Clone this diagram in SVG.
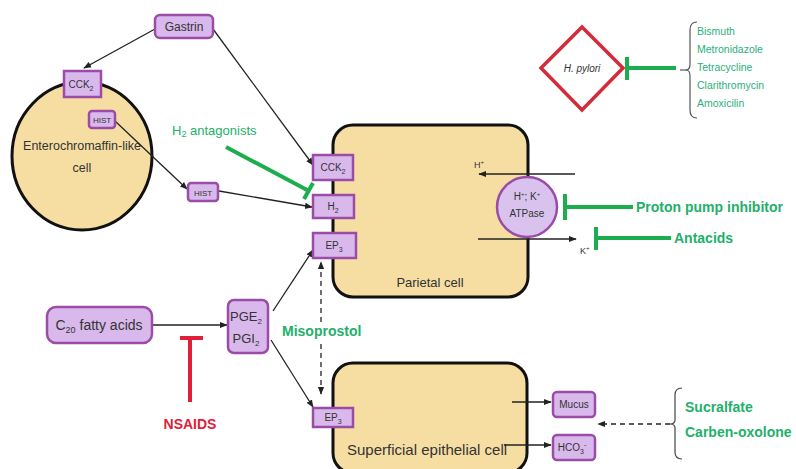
<svg xmlns="http://www.w3.org/2000/svg" width="796" height="469" viewBox="0 0 796 469">
<defs>
<style>
text{font-family:"Liberation Sans","Open Sans",sans-serif;}
.cell{fill:#f6dea3;stroke:#111;stroke-width:3;}
.box{fill:#d9b8ec;stroke:#9a4ca6;stroke-width:2.5;}
.lbl{font-size:10px;fill:#333;text-anchor:middle;}
.ln{stroke:#222;stroke-width:1.3;fill:none;}
.g{stroke:#1cae4e;stroke-width:4;fill:none;}
.gt{fill:#22b06a;font-weight:bold;}
.drug{fill:#2ab07a;font-size:10.5px;}
</style>
<marker id="ah" viewBox="0 0 10 10" refX="9" refY="5" markerWidth="6" markerHeight="6" orient="auto-start-reverse"><path d="M0,1 L10,5 L0,9 z" fill="#222"/></marker>
</defs>
<rect width="796" height="469" fill="#fff"/>

<g id="ecl-cell">
<ellipse class="cell" cx="82" cy="156" rx="70" ry="74"/>
<text x="82" y="150" style="font-size:12.5px;fill:#333" text-anchor="middle">Enterochromaffin-like</text>
<text x="82" y="172" style="font-size:12.5px;fill:#333" text-anchor="middle">cell</text>
</g>
<g id="parietal-cell">
<rect class="cell" x="333" y="125" width="195" height="172" rx="20"/>
<text x="430" y="287" style="font-size:13px;fill:#333" text-anchor="middle">Parietal cell</text>
<text x="474" y="168" style="font-size:9px;fill:#333">H<tspan font-size="6" dy="-4">+</tspan></text>
<text x="580" y="254" style="font-size:9px;fill:#333">K<tspan font-size="6" dy="-4">+</tspan></text>
</g>
<g id="epithelial-cell">
<rect class="cell" x="333" y="363" width="194" height="110" rx="20"/>
<text x="347" y="455" style="font-size:15px;fill:#333">Superficial epithelial cell</text>
</g>

<g id="connectors">
<line class="ln" x1="155" y1="29" x2="84" y2="68" marker-end="url(#ah)"/>
<line class="ln" x1="213" y1="29" x2="313" y2="165" marker-end="url(#ah)"/>
<line class="ln" x1="115" y1="121" x2="187" y2="189" marker-end="url(#ah)"/>
<line class="ln" x1="219" y1="191" x2="312" y2="207" marker-end="url(#ah)"/>
<line class="ln" x1="153" y1="325" x2="227" y2="325" marker-end="url(#ah)"/>
<line class="ln" x1="273" y1="311" x2="313" y2="250" marker-end="url(#ah)"/>
<line class="ln" x1="271" y1="340" x2="313" y2="407" marker-end="url(#ah)"/>
<line class="ln" x1="321" y1="394" x2="321" y2="262" stroke-dasharray="5,4" marker-start="url(#ah)" marker-end="url(#ah)"/>
<line class="ln" x1="575" y1="174" x2="479" y2="174" marker-end="url(#ah)"/>
<line class="ln" x1="478" y1="239" x2="576" y2="239" marker-end="url(#ah)"/>
<line class="ln" x1="512" y1="402" x2="551" y2="402" marker-end="url(#ah)"/>
<line class="ln" x1="504" y1="445" x2="551" y2="445" marker-end="url(#ah)"/>
<line class="ln" x1="670" y1="424" x2="598" y2="424" stroke-dasharray="5,4" marker-end="url(#ah)"/>
<line class="g" x1="226" y1="147" x2="309" y2="191"/>
<line class="g" x1="304" y1="199" x2="313" y2="183"/>
<line class="g" x1="565" y1="207" x2="633" y2="207"/>
<line class="g" x1="565" y1="194" x2="565" y2="220"/>
<line class="g" x1="596" y1="238" x2="671" y2="238"/>
<line class="g" x1="596" y1="227" x2="596" y2="250"/>
<line class="g" x1="627" y1="68" x2="676" y2="68"/>
<line class="g" x1="627" y1="57" x2="627" y2="80"/>
<line x1="680" y1="70" x2="687" y2="70" stroke="#555" stroke-width="1.2"/>
<line x1="190" y1="402" x2="190" y2="338" stroke="#e02038" stroke-width="4"/>
<line x1="180" y1="338" x2="203" y2="338" stroke="#e02038" stroke-width="4"/>
<path d="M697,22 Q690,22 690,30 L690,64 Q690,70 686,70 Q690,70 690,76 L690,110 Q690,118 697,118" fill="none" stroke="#555" stroke-width="1.2"/>
<path d="M682,388 Q675,388 675,395 L675,420 Q675,424 670,424 Q675,424 675,428 L675,452 Q675,459 682,459" fill="none" stroke="#444" stroke-width="1.2"/>
</g>

<g id="gastrin">
<rect class="box" x="155" y="15" width="58" height="23" rx="5"/>
<text class="lbl" x="184" y="31" style="font-size:12px">Gastrin</text>
</g>
<g id="cck2-ecl">
<rect class="box" x="64" y="71" width="37" height="26"/>
<text class="lbl" x="81" y="88">CCK<tspan font-size="7" dy="3">2</tspan></text>
</g>
<g id="hist-in">
<rect class="box" x="89" y="111" width="26" height="17" rx="3"/>
<text class="lbl" x="102" y="123" style="font-size:8px">HIST</text>
</g>
<g id="hist-out">
<rect class="box" x="188" y="183" width="30" height="18" rx="3"/>
<text class="lbl" x="203" y="195.5" style="font-size:8px">HIST</text>
</g>

<g id="h2-antagonists">
<text class="gt" x="172" y="135" style="font-size:13px;font-weight:normal">H<tspan font-size="9" dy="2">2</tspan><tspan dy="-2"> antagonists</tspan></text>
</g>

<g id="cck2-par">
<rect class="box" x="313" y="155" width="40" height="25"/>
<text class="lbl" x="333" y="171">CCK<tspan font-size="7" dy="3">2</tspan></text>
</g>
<g id="h2">
<rect class="box" x="313" y="195" width="41" height="23"/>
<text class="lbl" x="333" y="210">H<tspan font-size="7" dy="3">2</tspan></text>
</g>
<g id="ep3-par">
<rect class="box" x="313" y="233" width="43" height="25"/>
<text class="lbl" x="334" y="249">EP<tspan font-size="7" dy="3">3</tspan></text>
</g>
<g id="atpase">
<circle cx="527" cy="207" r="30" fill="#d9c3ee" stroke="#9a4ca6" stroke-width="2.5"/>
<text class="lbl" x="527" y="200">H<tspan font-size="6" dy="-4">+</tspan><tspan dy="4">; K</tspan><tspan font-size="6" dy="-4">+</tspan></text>
<text class="lbl" x="527" y="217">ATPase</text>
</g>

<g id="ppi"><text class="gt" x="636" y="212" style="font-size:14px">Proton pump inhibitor</text></g>
<g id="antacids"><text class="gt" x="674" y="243" style="font-size:14px">Antacids</text></g>

<g id="h-pylori">
<polygon points="582,27 623,68 582,110 541,68" fill="#fff" stroke="#d42a3a" stroke-width="3.5"/>
<text x="582" y="72" style="font-size:10px;font-style:italic;fill:#333" text-anchor="middle">H. pylori</text>
</g>
<g id="antibiotics">
<text class="drug" x="697" y="35">Bismuth</text>
<text class="drug" x="697" y="53">Metronidazole</text>
<text class="drug" x="697" y="71">Tetracycline</text>
<text class="drug" x="697" y="89">Clarithromycin</text>
<text class="drug" x="697" y="107">Amoxicilin</text>
</g>

<g id="c20">
<rect class="box" x="47" y="307" width="105" height="36" rx="9"/>
<text x="99" y="330" style="font-size:14px;fill:#333" text-anchor="middle">C<tspan font-size="9" dy="3">20</tspan><tspan dy="-3"> fatty acids</tspan></text>
</g>
<g id="pg">
<rect class="box" x="228" y="300" width="40" height="53" rx="6"/>
<text x="246" y="321" style="font-size:13px;fill:#333" text-anchor="middle">PGE<tspan font-size="8" dy="3">2</tspan></text>
<text x="246" y="343" style="font-size:13px;fill:#333" text-anchor="middle">PGI<tspan font-size="8" dy="3">2</tspan></text>
</g>
<g id="nsaids"><text x="190" y="429" style="font-size:14px;fill:#e02038;font-weight:bold" text-anchor="middle">NSAIDS</text></g>
<g id="misoprostol">
<rect x="281" y="322" width="82" height="18" fill="#fff"/>
<text class="gt" x="282" y="336" style="font-size:14px">Misoprostol</text>
</g>

<g id="ep3-epi">
<rect class="box" x="313" y="408" width="40" height="19"/>
<text class="lbl" x="333" y="421">EP<tspan font-size="7" dy="3">3</tspan></text>
</g>
<g id="mucus">
<rect class="box" x="553" y="392" width="42" height="25" rx="4"/>
<text class="lbl" x="574" y="408">Mucus</text>
</g>
<g id="hco3">
<rect class="box" x="553" y="435" width="42" height="25" rx="4"/>
<text class="lbl" x="572" y="451">HCO<tspan font-size="7" dy="3">3</tspan><tspan font-size="7" dy="-7">-</tspan></text>
</g>
<g id="sucralfate">
<text class="gt" x="685" y="412" style="font-size:14px">Sucralfate</text>
<text class="gt" x="685" y="437" style="font-size:14px">Carben-oxolone</text>
</g>
</svg>
